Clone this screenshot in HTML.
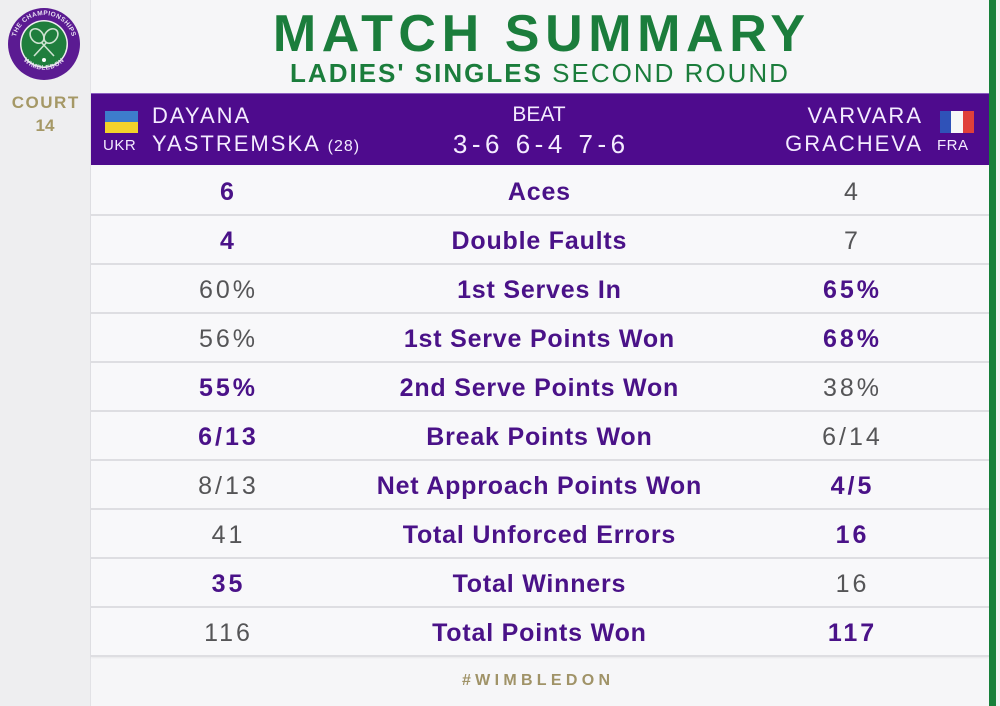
<!DOCTYPE html>
<html>
<head>
<meta charset="utf-8">
<style>
  html,body{margin:0;padding:0;}
  body{width:1000px;height:706px;position:relative;overflow:hidden;background:#f6f6f8;font-family:"Liberation Sans",Arial,sans-serif;}
  .abs{position:absolute;white-space:nowrap;}
  .leftpanel{position:absolute;left:0;top:0;width:90px;height:706px;background:#eeeef0;border-right:1px solid #e2e2e6;}
  .greenbar{position:absolute;left:989px;top:0;width:7px;height:706px;background:#17803a;}
  .rightedge{position:absolute;left:996px;top:0;width:4px;height:706px;background:#f2f2f2;}
  .title{left:0;top:8px;width:1078px;text-align:center;font-size:52px;line-height:52px;font-weight:bold;color:#1b7d3c;letter-spacing:5.6px;padding-left:5.6px;box-sizing:border-box;}
  .sub{left:0;top:60px;width:1078px;text-align:center;font-size:26px;line-height:26px;color:#1b7d3c;letter-spacing:2px;padding-left:2px;box-sizing:border-box;}
  .bar{position:absolute;left:91px;top:93px;width:898px;height:72px;background:#4e0b8d;border-top:1px solid #8a5cc0;box-sizing:border-box;}
  .nm{font-size:22px;line-height:22px;color:#f4ecff;letter-spacing:2px;}
  .row{position:absolute;left:91px;width:898px;height:49px;background:#f8f8fa;border-bottom:2px solid #dedee2;box-sizing:border-box;box-shadow:0 1px 2px rgba(0,0,0,0.06);}
  .cell{position:absolute;top:1px;height:47px;line-height:49px;font-size:25px;text-align:center;}
  .lv{left:36px;width:200px;letter-spacing:3px;padding-left:3px;box-sizing:border-box;}
  .rv{left:660px;width:200px;letter-spacing:3px;padding-left:3px;box-sizing:border-box;}
  .lab{left:248px;width:400px;font-weight:bold;color:#4a1288;letter-spacing:0.8px;padding-left:0.8px;box-sizing:border-box;}
  .b{font-weight:bold;color:#4a1288;}
  .g{color:#555557;}
</style>
</head>
<body>
<div class="leftpanel"></div>
<div class="greenbar"></div>
<div class="rightedge"></div>

<!-- logo -->
<svg class="abs" style="left:0;top:0" width="90" height="90" viewBox="0 0 90 90">
  <defs>
    <path id="arcTop" d="M 15 44 A 29 29 0 0 1 73 44"/>
    <path id="arcBot" d="M 18 50 A 27 27 0 0 0 70 50"/>
  </defs>
  <circle cx="44" cy="44" r="36" fill="#5b1b92"/>
  <circle cx="44" cy="44" r="24" fill="#f0f0f0"/>
  <circle cx="44" cy="44" r="22.5" fill="#1f7e3d"/>
  <text font-family="Liberation Sans, sans-serif" font-size="6.5" font-weight="bold" fill="#e8e0f2" letter-spacing="0.4"><textPath href="#arcTop" startOffset="50%" text-anchor="middle">THE CHAMPIONSHIPS</textPath></text>
  <text font-family="Liberation Sans, sans-serif" font-size="6.5" font-weight="bold" fill="#e8e0f2" letter-spacing="0.6"><textPath href="#arcBot" startOffset="50%" text-anchor="middle">WIMBLEDON</textPath></text>
  <g stroke="#cfe3d2" stroke-width="1.6" fill="none">
    <ellipse cx="37" cy="36" rx="6" ry="8" transform="rotate(-40 37 36)"/>
    <ellipse cx="51" cy="36" rx="6" ry="8" transform="rotate(40 51 36)"/>
    <line x1="41" y1="42" x2="54" y2="56"/>
    <line x1="47" y1="42" x2="34" y2="56"/>
  </g>
  <circle cx="44" cy="60" r="2" fill="#ffffff"/>
</svg>

<div class="abs" style="left:0;top:94px;width:90px;text-align:center;font-size:17px;line-height:17px;font-weight:bold;color:#a59866;letter-spacing:1.5px;padding-left:1.5px;box-sizing:border-box;">COURT</div>
<div class="abs" style="left:0;top:117px;width:90px;text-align:center;font-size:17px;line-height:17px;font-weight:bold;color:#a59866;">14</div>

<div class="abs title">MATCH SUMMARY</div>
<div class="abs sub"><b>LADIES' SINGLES</b> SECOND ROUND</div>

<div class="bar"></div>
<!-- UKR flag -->
<div class="abs" style="left:105px;top:111px;width:33px;height:11px;background:#3d7ccc;"></div>
<div class="abs" style="left:105px;top:122px;width:33px;height:11px;background:#f3d22a;"></div>
<div class="abs" style="left:103px;top:138px;font-size:15px;line-height:15px;color:#f4ecff;letter-spacing:0.5px;">UKR</div>
<div class="abs nm" style="left:152px;top:105px;">DAYANA</div>
<div class="abs nm" style="left:152px;top:133px;">YASTREMSKA <span style="font-size:16px;letter-spacing:1px;">(28)</span></div>

<div class="abs" style="left:339px;top:104px;width:400px;text-align:center;font-size:21px;line-height:21px;color:#f4ecff;">BEAT</div>
<div class="abs" style="left:339px;top:131px;width:400px;text-align:center;font-size:26px;line-height:26px;color:#f4ecff;letter-spacing:4.5px;padding-left:4.5px;box-sizing:border-box;">3-6 6-4 7-6</div>

<div class="abs nm" style="left:623px;top:105px;width:300px;text-align:right;letter-spacing:2px;margin-right:-2px;">VARVARA</div>
<div class="abs nm" style="left:623px;top:133px;width:300px;text-align:right;letter-spacing:2px;">GRACHEVA</div>
<!-- FRA flag -->
<div class="abs" style="left:940px;top:111px;width:11px;height:22px;background:#2f52b8;"></div>
<div class="abs" style="left:951px;top:111px;width:12px;height:22px;background:#f7f7f7;"></div>
<div class="abs" style="left:963px;top:111px;width:11px;height:22px;background:#e0403a;"></div>
<div class="abs" style="left:937px;top:138px;font-size:15px;line-height:15px;color:#f4ecff;letter-spacing:0.5px;">FRA</div>

<!-- rows -->
<div class="row" style="top:167px;"><span class="cell lv b">6</span><span class="cell lab">Aces</span><span class="cell rv g">4</span></div>
<div class="row" style="top:216px;"><span class="cell lv b">4</span><span class="cell lab">Double Faults</span><span class="cell rv g">7</span></div>
<div class="row" style="top:265px;"><span class="cell lv g">60%</span><span class="cell lab">1st Serves In</span><span class="cell rv b">65%</span></div>
<div class="row" style="top:314px;"><span class="cell lv g">56%</span><span class="cell lab">1st Serve Points Won</span><span class="cell rv b">68%</span></div>
<div class="row" style="top:363px;"><span class="cell lv b">55%</span><span class="cell lab">2nd Serve Points Won</span><span class="cell rv g">38%</span></div>
<div class="row" style="top:412px;"><span class="cell lv b">6/13</span><span class="cell lab">Break Points Won</span><span class="cell rv g">6/14</span></div>
<div class="row" style="top:461px;"><span class="cell lv g">8/13</span><span class="cell lab">Net Approach Points Won</span><span class="cell rv b">4/5</span></div>
<div class="row" style="top:510px;"><span class="cell lv g">41</span><span class="cell lab">Total Unforced Errors</span><span class="cell rv b">16</span></div>
<div class="row" style="top:559px;"><span class="cell lv b">35</span><span class="cell lab">Total Winners</span><span class="cell rv g">16</span></div>
<div class="row" style="top:608px;"><span class="cell lv g">116</span><span class="cell lab">Total Points Won</span><span class="cell rv b">117</span></div>

<div class="abs" style="left:336px;top:673px;width:400px;text-align:center;font-size:16px;line-height:16px;font-weight:bold;color:#a09368;letter-spacing:4.3px;padding-left:4.3px;box-sizing:border-box;">#WIMBLEDON</div>
</body>
</html>
